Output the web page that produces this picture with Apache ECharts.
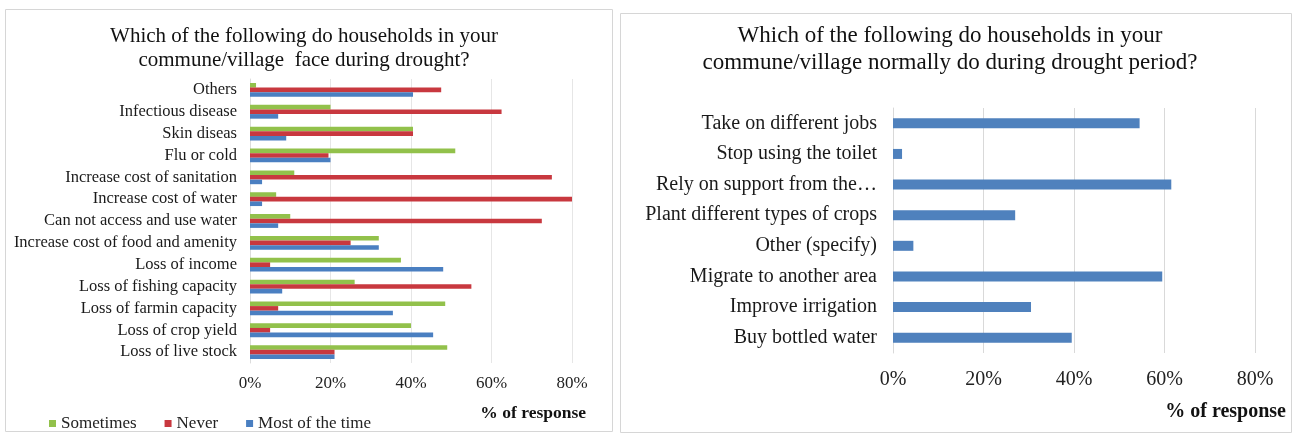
<!DOCTYPE html>
<html>
<head>
<meta charset="utf-8">
<script src="https://cdn.jsdelivr.net/npm/echarts@6/dist/echarts.min.js"></script>
<style>
  html, body { margin: 0; padding: 0; background: #ffffff; }
  #chart { width: 1296px; height: 435px; }
</style>
</head>
<body>
<div id="chart"></div>
<script>
// Problems households face during drought (bottom to top on the axis)
const problemCategories = [
  'Loss of live stock', 'Loss of crop yield', 'Loss of farmin capacity',
  'Loss of fishing capacity', 'Loss of income', 'Increase cost of food and amenity',
  'Can not access and use water', 'Increase cost of water', 'Increase cost of sanitation',
  'Flu or cold', 'Skin diseas', 'Infectious disease', 'Others'
];
const sometimes     = [49, 40, 48.5, 26, 37.5, 32, 10, 6.5, 11, 51, 40.5, 20, 1.5];
const never         = [21, 5, 7, 55, 5, 25, 72.5, 80, 75, 19.5, 40.5, 62.5, 47.5];
const mostOfTheTime = [21, 45.5, 35.5, 8, 48, 32, 7, 3, 3, 20, 9, 7, 40.5];

// What households normally do during a drought period (bottom to top)
const actionCategories = [
  'Buy bottled water', 'Improve irrigation', 'Migrate to another area',
  'Other (specify)', 'Plant different types of crops', 'Rely on support from the…',
  'Stop using the toilet', 'Take on different jobs'
];
const actionShares = [39.5, 30.5, 59.5, 4.5, 27, 61.5, 2, 54.5];

// Shared percent axis
const percentMin = 0;
const percentMax = 80;
const percentStep = 20;

const SERIF = '"Liberation Serif", "DejaVu Serif", serif';
const GREEN = '#92C14B', RED = '#C8383F', BLUE = '#4A7FC1', BAR_BLUE = '#4F81BD';

const chart = echarts.init(document.getElementById('chart'), null, { renderer: 'canvas' });

const percentAxis = (gridIndex, fontSize, margin, gridColor) => ({
  type: 'value', gridIndex,
  min: percentMin, max: percentMax, interval: percentStep,
  axisLine: { show: false }, axisTick: { show: false },
  axisLabel: { formatter: '{value}%', fontFamily: SERIF, fontSize, color: '#222', margin },
  splitLine: { show: true, lineStyle: { color: gridColor, width: 1 } }
});

const categoryAxis = (gridIndex, data, fontSize, margin, lineColor) => ({
  type: 'category', gridIndex, data,
  axisLine: { show: true, lineStyle: { color: lineColor } },
  axisTick: { show: false },
  axisLabel: { interval: 0, fontFamily: SERIF, fontSize, color: '#1a1a1a', margin },
  splitLine: { show: false }
});

// within each group the first series sits on top
const leftBar = (name, data, color) => ({
  name, type: 'bar', xAxisIndex: 0, yAxisIndex: 0, data,
  barWidth: 4.6, barGap: '0%',
  itemStyle: { color }
});

chart.setOption({
  animation: false,
  backgroundColor: '#ffffff',
  grid: [
    { left: 250, right: 724, top: 79, bottom: 72 },
    { left: 893, right: 41, top: 108, bottom: 82 }
  ],
  xAxis: [
    percentAxis(0, 17, 12, '#e6e6e6'),
    percentAxis(1, 20, 17, '#d9d9d9')
  ],
  yAxis: [
    categoryAxis(0, problemCategories, 16.5, 13, '#dcdcdc'),
    categoryAxis(1, actionCategories, 20, 16, '#d9d9d9')
  ],
  legend: {
    data: ['Sometimes', 'Never', 'Most of the time'],
    left: 44, top: 410,
    icon: 'rect', itemWidth: 7, itemHeight: 7, itemGap: 28,
    textStyle: { fontFamily: SERIF, fontSize: 17, color: '#222' }
  },
  series: [
    leftBar('Sometimes', sometimes, GREEN),
    leftBar('Never', never, RED),
    leftBar('Most of the time', mostOfTheTime, BLUE),
    {
      name: 'Share', type: 'bar', xAxisIndex: 1, yAxisIndex: 1,
      data: actionShares, barWidth: 10,
      itemStyle: { color: BAR_BLUE }
    }
  ],
  graphic: [
    // panel frames
    { type: 'rect', shape: { x: 5.5, y: 9.5, width: 607, height: 422 },
      style: { fill: null, stroke: '#d6d6d6', lineWidth: 1 }, z: -1 },
    { type: 'rect', shape: { x: 620.5, y: 13.5, width: 671, height: 419 },
      style: { fill: null, stroke: '#d6d6d6', lineWidth: 1 }, z: -1 },
    // titles
    { type: 'text', x: 304, y: 24,
      style: { text: 'Which of the following do households in your\ncommune/village  face during drought?',
               align: 'center', verticalAlign: 'top', lineHeight: 24,
               font: '21px ' + SERIF, fill: '#111' } },
    { type: 'text', x: 950, y: 22,
      style: { text: 'Which of the following do households in your\ncommune/village normally do during drought period?',
               align: 'center', verticalAlign: 'top', lineHeight: 27,
               font: '23px ' + SERIF, fill: '#111' } },
    // axis titles
    { type: 'text', x: 586, y: 413,
      style: { text: '% of response', align: 'right', verticalAlign: 'middle',
               font: 'bold 17.5px ' + SERIF, fill: '#111' } },
    { type: 'text', x: 1286, y: 412,
      style: { text: '% of response', align: 'right', verticalAlign: 'middle',
               font: 'bold 20px ' + SERIF, fill: '#111' } }
  ]
});
</script>
</body>
</html>
